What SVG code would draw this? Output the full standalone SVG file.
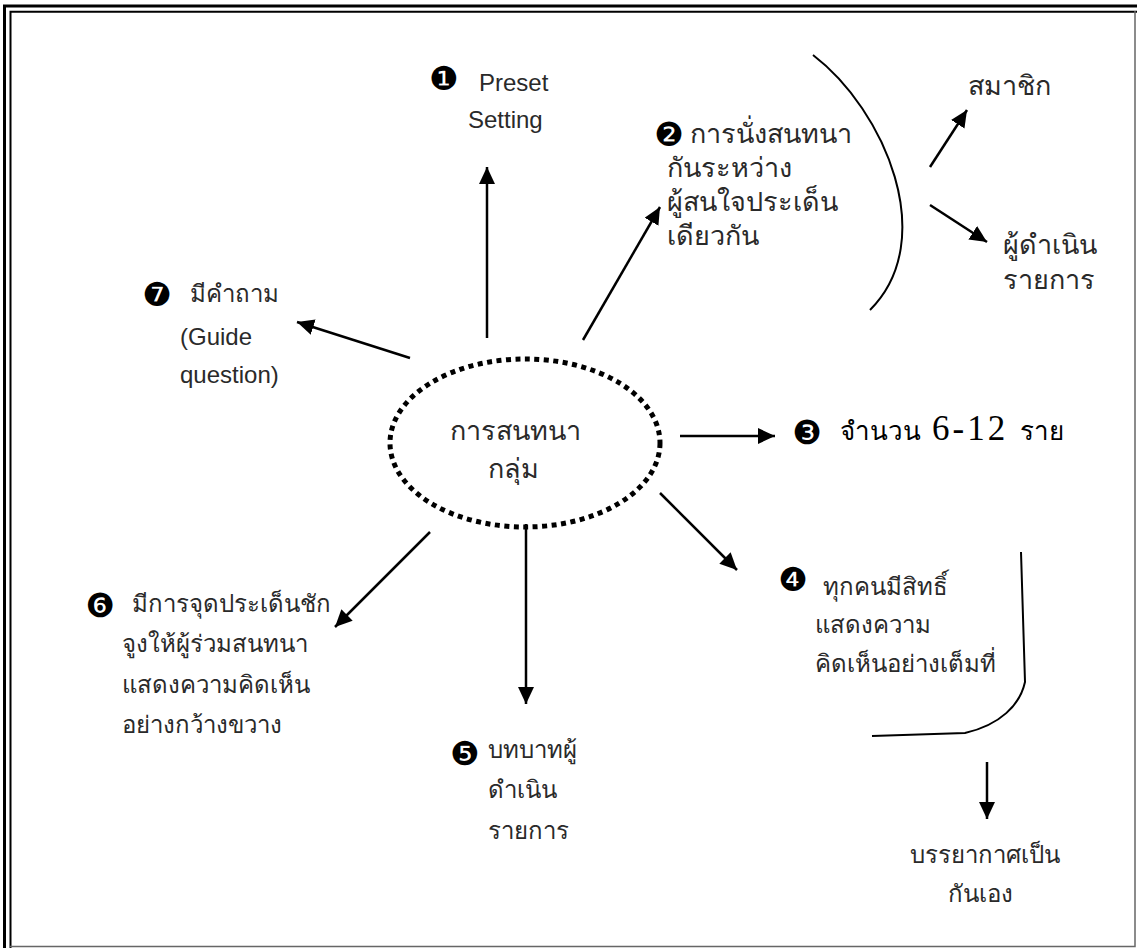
<svg xmlns="http://www.w3.org/2000/svg" width="1137" height="948" viewBox="0 0 1137 948">
<style>
.th{font-family:"Noto Sans","Noto Sans CJK SC",sans-serif;font-size:24px;fill:#2a2a2a;font-weight:300}
.thl{font-family:"Noto Sans","Noto Sans CJK SC",sans-serif;font-size:27px;fill:#2a2a2a;font-weight:300}
.en{font-family:"Liberation Sans",Arial,sans-serif;font-size:24px;fill:#2a2a2a}
.num{font-family:"DejaVu Sans",sans-serif;font-size:33px;fill:#000;text-anchor:middle}
.sf{font-family:"Liberation Serif","Noto Sans",serif;fill:#000}
.ln{stroke:#000;stroke-width:2.5;fill:none}
.cv{stroke:#000;stroke-width:2;fill:none}
</style>
<defs>
<marker id="ah" markerUnits="userSpaceOnUse" markerWidth="18" markerHeight="16" viewBox="0 0 18 16" refX="17" refY="8" orient="auto">
<path d="M0,0 L17,8 L0,16 Z" fill="#000"/>
</marker>
</defs>
<rect width="1137" height="948" fill="#fff"/>
<g id="frame">
<path d="M4.5,948 V6 H1137" fill="none" stroke="#000" stroke-width="3"/>
<path d="M10.5,948 V11.8 H1137" fill="none" stroke="#000" stroke-width="2"/>
<path d="M1135,11 V946.5 H10" fill="none" stroke="#666" stroke-width="1.5"/>
</g>
<g id="connectors">
<line class="ln" x1="487" y1="338" x2="487" y2="167" marker-end="url(#ah)"/>
<line class="ln" x1="583" y1="340" x2="660" y2="207" marker-end="url(#ah)"/>
<line class="ln" x1="680" y1="436" x2="775" y2="436" marker-end="url(#ah)"/>
<line class="ln" x1="660" y1="493" x2="737" y2="570" marker-end="url(#ah)"/>
<line class="ln" x1="526" y1="524" x2="526" y2="704" marker-end="url(#ah)"/>
<line class="ln" x1="430" y1="532" x2="335" y2="627" marker-end="url(#ah)"/>
<line class="ln" x1="410" y1="358" x2="297" y2="322" marker-end="url(#ah)"/>
<line class="ln" x1="930" y1="167" x2="967" y2="110" marker-end="url(#ah)"/>
<line class="ln" x1="930" y1="205" x2="987" y2="242" marker-end="url(#ah)"/>
<line class="ln" x1="987" y1="762" x2="987" y2="819" marker-end="url(#ah)"/>
<path class="cv" d="M813,55 C885,110 940,240 870,310"/>
<path class="cv" d="M1021,552 L1025,682 C1020,705 1000,725 965,733 L872,736"/>
</g>
<g id="center">
<ellipse cx="525" cy="443" rx="135" ry="84" fill="none" stroke="#000" stroke-width="5" stroke-dasharray="5 4.5"/>
<text class="thl" x="450" y="440">การสนทนา</text>
<text class="thl" x="488" y="478">กลุ่ม</text>
</g>
<g id="n1">
<text class="num" x="444" y="90">❶</text>
<text class="en" x="479" y="91">Preset</text>
<text class="en" x="468" y="128">Setting</text>
</g>
<g id="n2">
<text class="num" x="669" y="146" font-size="31">❷</text>
<text class="thl" x="690" y="143">การนั่งสนทนา</text>
<text class="thl" x="667" y="177">กันระหว่าง</text>
<text class="thl" x="667" y="211">ผู้สนใจประเด็น</text>
<text class="thl" x="667" y="245">เดียวกัน</text>
</g>
<g id="n2a">
<text class="thl" x="968" y="95">สมาชิก</text>
</g>
<g id="n2b">
<text class="thl" x="1003" y="254">ผู้ดำเนิน</text>
<text class="thl" x="1003" y="289">รายการ</text>
</g>
<g id="n3">
<text class="num" x="807" y="444" font-size="31">❸</text>
<text class="sf" x="840" y="440" font-size="26">จำนวน</text>
<text class="sf" x="932" y="440" font-size="35" letter-spacing="3">6-12</text>
<text class="sf" x="1020" y="440" font-size="26">ราย</text>
</g>
<g id="n4">
<text class="num" x="793" y="591">❹</text>
<text class="th" x="823" y="595">ทุกคนมีสิทธิ์</text>
<text class="th" x="815" y="633">แสดงความ</text>
<text class="th" x="815" y="672">คิดเห็นอย่างเต็มที่</text>
</g>
<g id="n4a">
<text class="th" x="910" y="863">บรรยากาศเป็น</text>
<text class="th" x="948" y="902">กันเอง</text>
</g>
<g id="n5">
<text class="num" x="465" y="765">❺</text>
<text class="th" x="488" y="758" font-size="26">บทบาทผู้</text>
<text class="th" x="488" y="798" font-size="26">ดำเนิน</text>
<text class="th" x="488" y="839" font-size="26">รายการ</text>
</g>
<g id="n6">
<text class="num" x="100" y="617">❻</text>
<text class="th" x="132" y="612">มีการจุดประเด็นชัก</text>
<text class="th" x="122" y="652">จูงให้ผู้ร่วมสนทนา</text>
<text class="th" x="122" y="693">แสดงความคิดเห็น</text>
<text class="th" x="122" y="733">อย่างกว้างขวาง</text>
</g>
<g id="n7">
<text class="num" x="157" y="306">❼</text>
<text class="th" x="190" y="302">มีคำถาม</text>
<text class="en" x="180" y="345">(Guide</text>
<text class="en" x="180" y="383">question)</text>
</g>
</svg>
